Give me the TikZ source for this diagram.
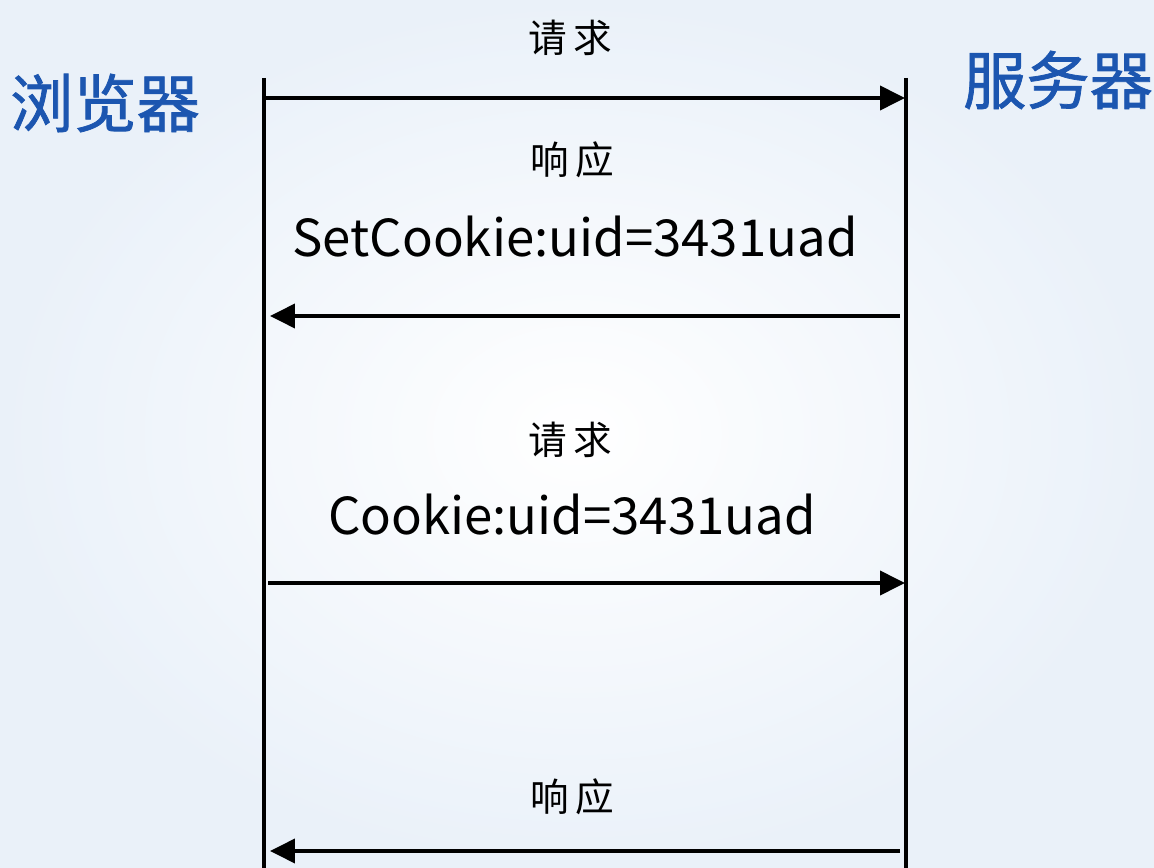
\documentclass[tikz,border=0pt]{standalone}
\usepackage{fontspec}
\setmainfont{Noto Sans CJK SC}
\newfontfamily\sidefont[FakeBold=1.2]{Noto Sans CJK SC}
\usepackage{xcolor}
\usetikzlibrary{arrows.meta,positioning}
\definecolor{sideblue}{RGB}{28,86,176}
\definecolor{paleblue}{RGB}{234,241,249}

\begin{document}
\begin{tikzpicture}[
    x=0.02cm, y=-0.02cm,
    >={Triangle[length=0.5cm, width=0.48cm]},
    lifeline/.style={line width=2.2pt, black},
    msg/.style={->, line width=2.2pt, black},
    msglabel/.style={font=\fontsize{22}{24}\selectfont, inner sep=0pt},
    cookie/.style={font=\fontsize{29}{31}\selectfont, inner sep=0pt},
    side/.style={font=\fontsize{36}{38}\selectfont\sidefont, text=sideblue, inner sep=0pt},
  ]
    % --- background ---
    \useasboundingbox (0,0) rectangle (1154,868);
    \shade[inner color=white, outer color=paleblue] (0,0) rectangle (1154,868);

    % --- the two parties ---
    \node[side] (browser) at (105,103) {浏览器};
    \node[side] (server) at (1058,80) {服务器};

    % lifelines
    \coordinate (btop) at (264,78);
    \coordinate (bbot) at (264,868);
    \coordinate (stop) at (906,78);
    \coordinate (sbot) at (906,868);
    \draw[lifeline] (btop) -- (bbot);
    \draw[lifeline] (stop) -- (sbot);

    % --- first round trip ---
    \node[msglabel] (req1) at (570,38) {请\,求};
    \coordinate (r1a) at (264,98);
    \coordinate (r1b) at (905,98);
    \draw[msg] (r1a) -- (r1b);

    \node[msglabel] (resp1) at (572,160) {响\,应};
    \node[cookie] (setck) at (575,237) {SetCookie:uid=3431uad};
    \coordinate (s1a) at (900,316);
    \coordinate (s1b) at (270,316);
    \draw[msg] (s1a) -- (s1b);

    % --- second round trip ---
    \node[msglabel] (req2) at (570,440) {请\,求};
    \node[cookie] (ck) at (572,515) {Cookie:uid=3431uad};
    \coordinate (r2a) at (268,583);
    \coordinate (r2b) at (905,583);
    \draw[msg] (r2a) -- (r2b);

    \node[msglabel] (resp2) at (572,797) {响\,应};
    \coordinate (s2a) at (900,851);
    \coordinate (s2b) at (270,851);
    \draw[msg] (s2a) -- (s2b);
  \end{tikzpicture}
\end{document}
